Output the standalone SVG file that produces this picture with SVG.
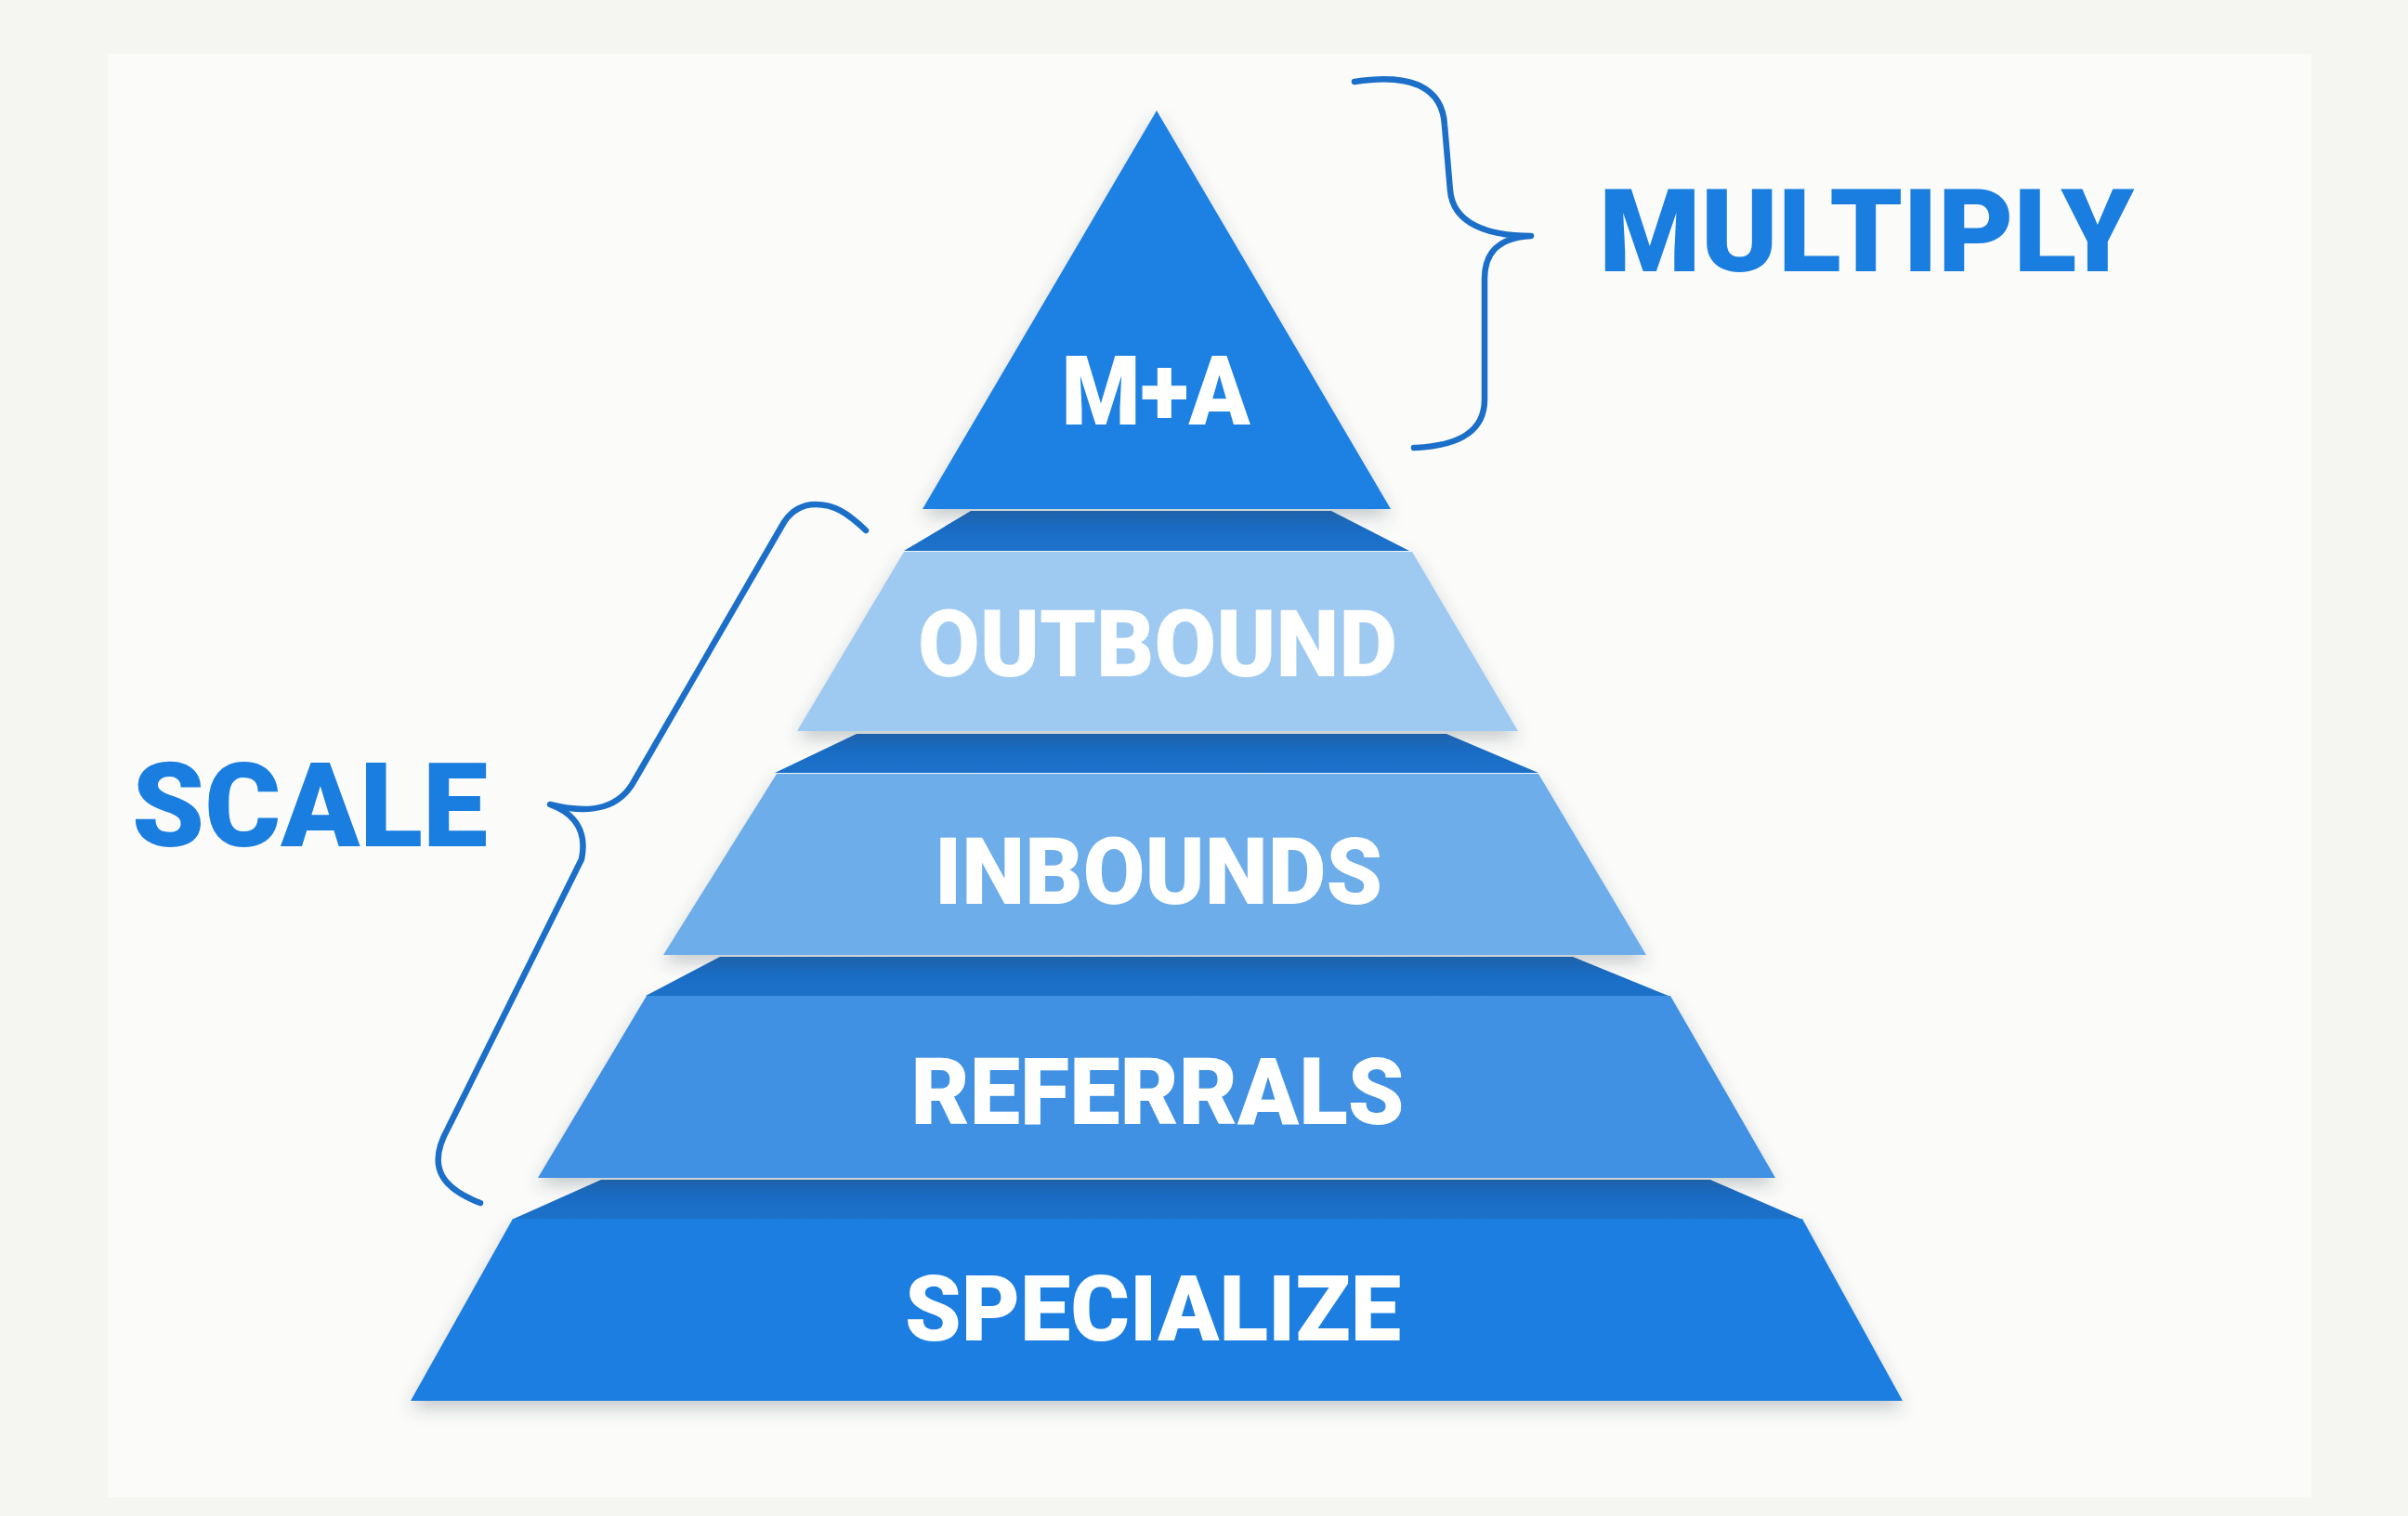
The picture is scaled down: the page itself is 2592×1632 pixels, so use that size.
<svg xmlns="http://www.w3.org/2000/svg" width="2592" height="1632" viewBox="0 0 2592 1632">
  <defs>
    <filter id="shadow" x="-10%" y="-10%" width="120%" height="130%">
      <feDropShadow dx="0" dy="8" stdDeviation="9" flood-color="#3a4a5a" flood-opacity="0.28"/>
    </filter>
    <linearGradient id="band" x1="0" y1="0" x2="0" y2="1">
      <stop offset="0" stop-color="#1867be"/>
      <stop offset="1" stop-color="#1d73cc"/>
    </linearGradient>
    <style>
      .band { fill: url(#band); }
      .label { font-family: Roboto, "Liberation Sans", Arial, sans-serif; font-weight: 900; fill: #ffffff; text-anchor: middle; }
      .side { font-family: Roboto, "Liberation Sans", Arial, sans-serif; font-weight: 900; fill: #1a7ee0; }
      .brace { fill: none; stroke: #1b6fc8; stroke-width: 6.5; stroke-linecap: round; stroke-linejoin: round; }
    </style>
  </defs>

  <rect x="0" y="0" width="2592" height="1632" fill="#f5f5f1"/>
  <rect x="116" y="58" width="2372" height="1554" fill="#fbfbf9"/>

  <g id="tier-specialize">
    <polygon class="band" points="647,1270 1841,1270 1938,1312 553,1312"/>
    <polygon filter="url(#shadow)" fill="#1c7ee0" points="552,1312 1940,1312 2048,1508 442,1508"/>
    <text class="label" x="1241" y="1443" font-size="99" textLength="534" lengthAdjust="spacingAndGlyphs">SPECIALIZE</text>
  </g>

  <g id="tier-referrals">
    <polygon class="band" points="775,1030 1693,1030 1796,1072 695,1072"/>
    <polygon filter="url(#shadow)" fill="#3f91e3" points="696,1072 1798,1072 1911,1268 579,1268"/>
    <text class="label" x="1246" y="1210" font-size="101" textLength="531" lengthAdjust="spacingAndGlyphs">REFERRALS</text>
  </g>

  <g id="tier-inbounds">
    <polygon class="band" points="922,790 1557,790 1656,832 834,832"/>
    <polygon filter="url(#shadow)" fill="#6dadea" points="836,833 1656,833 1772,1028 714,1028"/>
    <text class="label" x="1247" y="973" font-size="100" textLength="482" lengthAdjust="spacingAndGlyphs">INBOUNDS</text>
  </g>

  <g id="tier-outbound">
    <polygon class="band" points="1045,550 1433,550 1517,593 973,593"/>
    <polygon filter="url(#shadow)" fill="#9ecaf2" points="973,594 1520,594 1634,787 858,787"/>
    <text class="label" x="1246" y="728" font-size="100" textLength="516" lengthAdjust="spacingAndGlyphs">OUTBOUND</text>
  </g>

  <g id="tier-ma">
    <polygon filter="url(#shadow)" fill="#1d81e3" points="1245,119 1497,548 993,548"/>
    <text class="label" x="1244" y="457" font-size="104" textLength="203" lengthAdjust="spacingAndGlyphs">M+A</text>
  </g>

  <g id="label-multiply">
    <text class="side" x="1721" y="292" font-size="125" textLength="576" lengthAdjust="spacingAndGlyphs">MULTIPLY</text>
  </g>

  <g id="label-scale">
    <text class="side" x="142" y="911" font-size="127" textLength="383" lengthAdjust="spacingAndGlyphs">SCALE</text>
  </g>

  <g id="connectors">
    <path class="brace" d="M1458,88 C1520,78 1553,95 1555,135 L1561,205 C1564,240 1600,254 1648,254 C1610,256 1598,275 1598,300 L1598,430 C1598,465 1570,480 1522,482"/>
    <path class="brace" d="M932,571 C912,552 898,543 878,543 C862,543 852,550 844,562 L683,840 C668,868 640,878 592,866 C620,876 632,896 626,925 L482,1215 C458,1258 478,1280 517,1295"/>
  </g>
</svg>
